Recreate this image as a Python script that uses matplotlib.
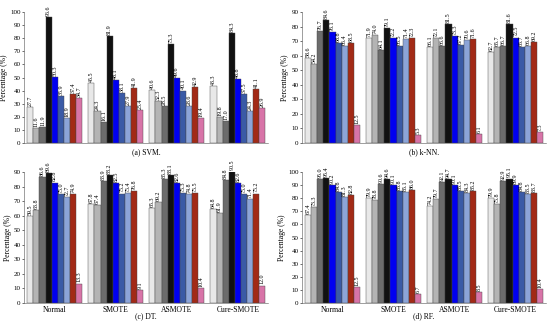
import numpy as np
import matplotlib
matplotlib.use('Agg')
import matplotlib.pyplot as plt

plt.rcParams['font.family'] = ['Liberation Serif', 'DejaVu Serif']

groups = ['Normal', 'SMOTE', 'ASMOTE', 'Cure-SMOTE']

svm_vals = [
    [27.7, 11.6, 11.9, 96.6, 50.3, 35.9, 18.9, 37.4, 34.7],
    [45.5, 24.3, 16.1, 81.9, 48.1, 38.1, 27.9, 41.9, 25.4],
    [40.6, 32.3, 28.5, 75.3, 49.6, 40.1, 28.6, 42.9, 19.4],
    [43.3, 19.8, 17.0, 84.3, 48.8, 37.5, 24.3, 41.1, 26.9],
]
knn_vals = [
    [58.6, 54.2, 76.7, 84.6, 76.1, 68.8, 66.4, 68.5, 12.5],
    [71.9, 74.0, 64.1, 79.1, 72.2, 66.5, 71.4, 72.3, 5.3],
    [66.1, 72.1, 66.6, 81.5, 73.3, 67.2, 70.6, 71.6, 6.1],
    [62.7, 65.7, 66.7, 81.6, 72.5, 65.7, 66.8, 69.2, 7.3],
]
dt_vals = [
    [59.5, 63.8, 86.6, 89.6, 82.8, 75.0, 72.7, 74.9, 13.3],
    [67.8, 67.4, 83.9, 88.2, 82.5, 75.2, 75.4, 76.8, 9.1],
    [65.3, 69.2, 85.3, 88.1, 82.6, 75.3, 74.8, 75.5, 10.4],
    [64.8, 61.9, 84.8, 90.5, 82.6, 75.0, 71.4, 75.2, 12.0],
]
rf_vals = [
    [67.4, 73.3, 95.0, 95.4, 90.2, 84.8, 81.3, 82.8, 12.5],
    [79.9, 78.8, 90.6, 94.6, 90.1, 85.8, 85.1, 86.0, 6.7],
    [74.2, 79.7, 92.1, 94.7, 90.1, 85.5, 84.3, 85.2, 8.5],
    [79.9, 75.8, 92.9, 95.1, 89.9, 84.8, 83.5, 83.7, 10.4],
]

colors = ['#e8e8e8', '#b4b4b4', '#6c6c6c', '#111111', '#0000f0',
          '#3a5aa6', '#8ca4d8', '#a22a16', '#d874a8']

panels = [
    (svm_vals, '(a) SVM.', 100, [0.044, 0.5586, 0.444, 0.404], False),
    (knn_vals, '(b) k-NN.', 90, [0.549, 0.5586, 0.444, 0.404], False),
    (dt_vals, '(c) DT.', 90, [0.044, 0.0648, 0.444, 0.404], True),
    (rf_vals, '(d) RF.', 100, [0.549, 0.0648, 0.444, 0.404], True),
]

fig = plt.figure(figsize=(5.5, 3.24), dpi=100)
w = 0.1
x = np.arange(len(groups))

for vals, caption, ymax, rect, show_x in panels:
    ax = fig.add_axes(rect)
    vals = np.array(vals)
    for j in range(vals.shape[1]):
        pos = x + (j - 4) * w
        bars = ax.bar(pos, vals[:, j], w, color=colors[j],
                      edgecolor='#444444', linewidth=0.3)
        for b, v in zip(bars, vals[:, j]):
            ax.text(b.get_x() + w / 2, v + 0.8, f'{v:.1f}', rotation=90,
                    ha='center', va='bottom', fontsize=4.3)
    ax.set_xlim(-0.5, 3.5)
    ax.set_ylim(0, ymax)
    ax.set_yticks(np.arange(0, ymax + 1, 10))
    ax.tick_params(axis='y', labelsize=5, length=1.5, width=0.4, pad=1)
    ax.set_ylabel('Percentage (%)', fontsize=5.5, labelpad=1.5)
    ax.spines['top'].set_visible(False)
    ax.spines['right'].set_visible(False)
    for s in ('left', 'bottom'):
        ax.spines[s].set_linewidth(0.4)
        ax.spines[s].set_color('#555555')
    if show_x:
        ax.set_xticks(x)
        ax.set_xticklabels(groups, fontsize=5.5)
        ax.tick_params(axis='x', length=0, pad=2)
        cy = rect[1] - 0.042
    else:
        ax.set_xticks([])
        cy = rect[1] - 0.028
    cx = rect[0] + rect[2] / 2
    fig.text(cx, cy, caption, ha='center', va='center', fontsize=5.5)

fig.savefig('out.png', dpi=100)
